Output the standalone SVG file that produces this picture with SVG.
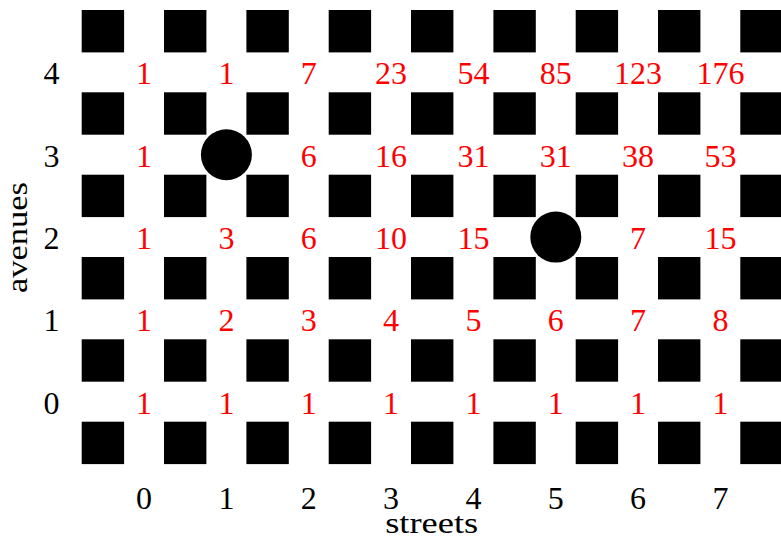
<svg xmlns="http://www.w3.org/2000/svg" xmlns:xlink="http://www.w3.org/1999/xlink" width="781" height="539" viewBox="0 0 781 539">
<style>
.sq{fill:#000}
.dot{fill:#000}
.n{font-family:"Liberation Serif","DejaVu Serif",serif;font-size:32px;fill:#ff0000;text-anchor:middle}
.ax{font-family:"Liberation Serif","DejaVu Serif",serif;font-size:32px;fill:#000;text-anchor:middle}
</style>
<defs><rect id="b" width="42.4" height="42.4" class="sq"/></defs>
<rect width="781" height="539" fill="#fff"/>
<g id="blocks">
<g id="r0"><use xlink:href="#b" x="81.7" y="10"/><use xlink:href="#b" x="164" y="10"/><use xlink:href="#b" x="246.4" y="10"/><use xlink:href="#b" x="328.7" y="10"/><use xlink:href="#b" x="411" y="10"/><use xlink:href="#b" x="493.4" y="10"/><use xlink:href="#b" x="575.7" y="10"/><use xlink:href="#b" x="658" y="10"/><use xlink:href="#b" x="740.3" y="10"/></g>
<g id="r1"><use xlink:href="#b" x="81.7" y="92.3"/><use xlink:href="#b" x="164" y="92.3"/><use xlink:href="#b" x="246.4" y="92.3"/><use xlink:href="#b" x="328.7" y="92.3"/><use xlink:href="#b" x="411" y="92.3"/><use xlink:href="#b" x="493.4" y="92.3"/><use xlink:href="#b" x="575.7" y="92.3"/><use xlink:href="#b" x="658" y="92.3"/><use xlink:href="#b" x="740.3" y="92.3"/></g>
<g id="r2"><use xlink:href="#b" x="81.7" y="174.7"/><use xlink:href="#b" x="164" y="174.7"/><use xlink:href="#b" x="246.4" y="174.7"/><use xlink:href="#b" x="328.7" y="174.7"/><use xlink:href="#b" x="411" y="174.7"/><use xlink:href="#b" x="493.4" y="174.7"/><use xlink:href="#b" x="575.7" y="174.7"/><use xlink:href="#b" x="658" y="174.7"/><use xlink:href="#b" x="740.3" y="174.7"/></g>
<g id="r3"><use xlink:href="#b" x="81.7" y="257"/><use xlink:href="#b" x="164" y="257"/><use xlink:href="#b" x="246.4" y="257"/><use xlink:href="#b" x="328.7" y="257"/><use xlink:href="#b" x="411" y="257"/><use xlink:href="#b" x="493.4" y="257"/><use xlink:href="#b" x="575.7" y="257"/><use xlink:href="#b" x="658" y="257"/><use xlink:href="#b" x="740.3" y="257"/></g>
<g id="r4"><use xlink:href="#b" x="81.7" y="339.3"/><use xlink:href="#b" x="164" y="339.3"/><use xlink:href="#b" x="246.4" y="339.3"/><use xlink:href="#b" x="328.7" y="339.3"/><use xlink:href="#b" x="411" y="339.3"/><use xlink:href="#b" x="493.4" y="339.3"/><use xlink:href="#b" x="575.7" y="339.3"/><use xlink:href="#b" x="658" y="339.3"/><use xlink:href="#b" x="740.3" y="339.3"/></g>
<g id="r5"><use xlink:href="#b" x="81.7" y="421.7"/><use xlink:href="#b" x="164" y="421.7"/><use xlink:href="#b" x="246.4" y="421.7"/><use xlink:href="#b" x="328.7" y="421.7"/><use xlink:href="#b" x="411" y="421.7"/><use xlink:href="#b" x="493.4" y="421.7"/><use xlink:href="#b" x="575.7" y="421.7"/><use xlink:href="#b" x="658" y="421.7"/><use xlink:href="#b" x="740.3" y="421.7"/></g>
</g>
<g id="blocked">
<circle class="dot" cx="226.4" cy="154.7" r="25.5"/>
<circle class="dot" cx="555.8" cy="237.1" r="25.5"/>
</g>
<g id="counts">
<text class="n" x="144.1" y="84.4">1</text><text class="n" x="226.4" y="84.4">1</text><text class="n" x="308.8" y="84.4">7</text><text class="n" x="391.1" y="84.4">23</text><text class="n" x="473.4" y="84.4">54</text><text class="n" x="555.8" y="84.4">85</text><text class="n" x="638.1" y="84.4">123</text><text class="n" x="720.4" y="84.4">176</text>
<text class="n" x="144.1" y="166.7">1</text><text class="n" x="308.8" y="166.7">6</text><text class="n" x="391.1" y="166.7">16</text><text class="n" x="473.4" y="166.7">31</text><text class="n" x="555.8" y="166.7">31</text><text class="n" x="638.1" y="166.7">38</text><text class="n" x="720.4" y="166.7">53</text>
<text class="n" x="144.1" y="249.1">1</text><text class="n" x="226.4" y="249.1">3</text><text class="n" x="308.8" y="249.1">6</text><text class="n" x="391.1" y="249.1">10</text><text class="n" x="473.4" y="249.1">15</text><text class="n" x="638.1" y="249.1">7</text><text class="n" x="720.4" y="249.1">15</text>
<text class="n" x="144.1" y="331.4">1</text><text class="n" x="226.4" y="331.4">2</text><text class="n" x="308.8" y="331.4">3</text><text class="n" x="391.1" y="331.4">4</text><text class="n" x="473.4" y="331.4">5</text><text class="n" x="555.8" y="331.4">6</text><text class="n" x="638.1" y="331.4">7</text><text class="n" x="720.4" y="331.4">8</text>
<text class="n" x="144.1" y="413.7">1</text><text class="n" x="226.4" y="413.7">1</text><text class="n" x="308.8" y="413.7">1</text><text class="n" x="391.1" y="413.7">1</text><text class="n" x="473.4" y="413.7">1</text><text class="n" x="555.8" y="413.7">1</text><text class="n" x="638.1" y="413.7">1</text><text class="n" x="720.4" y="413.7">1</text>
</g>
<g id="axes">
<text class="ax" x="51.5" y="84.4">4</text><text class="ax" x="51.5" y="166.7">3</text><text class="ax" x="51.5" y="249.1">2</text><text class="ax" x="51.5" y="331.4">1</text><text class="ax" x="51.5" y="413.7">0</text>
<text class="ax" x="144.1" y="508.5">0</text><text class="ax" x="226.4" y="508.5">1</text><text class="ax" x="308.8" y="508.5">2</text><text class="ax" x="391.1" y="508.5">3</text><text class="ax" x="473.4" y="508.5">4</text><text class="ax" x="555.8" y="508.5">5</text><text class="ax" x="638.1" y="508.5">6</text><text class="ax" x="720.4" y="508.5">7</text>
<text class="ax" x="431.7" y="532.5" style="font-size:30px" textLength="93" lengthAdjust="spacingAndGlyphs">streets</text>
<text class="ax" transform="translate(27,237.5) rotate(-90)" x="0" y="0" style="font-size:29px" textLength="111" lengthAdjust="spacingAndGlyphs">avenues</text>
</g>
</svg>
